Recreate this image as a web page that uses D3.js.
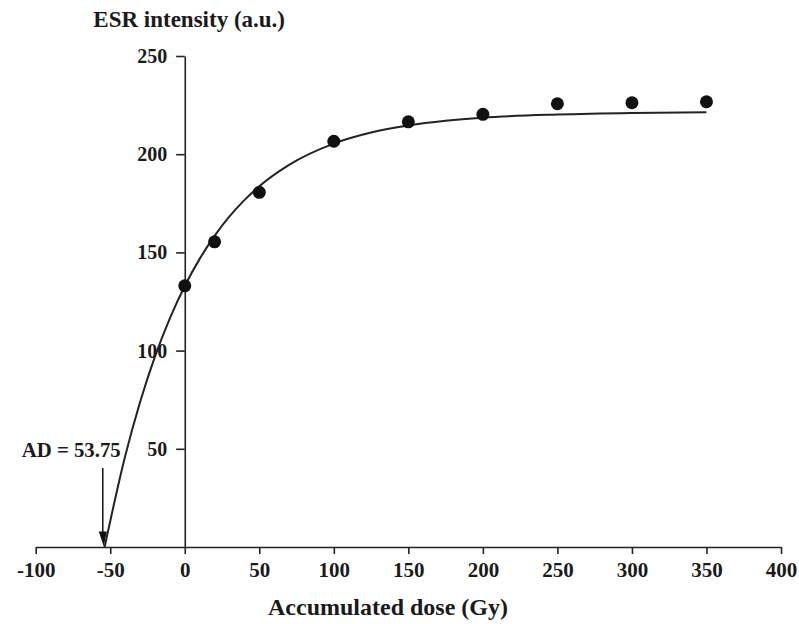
<!DOCTYPE html>
<html>
<head>
<meta charset="utf-8">
<script src="https://cdn.jsdelivr.net/npm/d3@7"></script>
<style>
  html, body { margin: 0; padding: 0; background: #fff; }
  svg { display: block; }
  text { font-family: "Liberation Serif", "Times New Roman", serif; font-weight: bold; fill: #1a1a1a; }
</style>
</head>
<body>
<svg id="chart" width="799" height="624"></svg>
<script>
// Measured points
const doseX = [0, 20, 50, 100, 150, 200, 250, 300, 350];
const esrY  = [133.0, 155.4, 180.6, 206.6, 216.5, 220.3, 225.7, 226.2, 226.7];

// Fitted curve
const curveX = [-53.75, -40, -30, -20, -10, 0, 10, 20, 30, 40, 50, 70, 100, 125, 150, 175, 200, 250, 300, 350];
const curveY = [0, 46.2, 73.7, 96.9, 116.4, 132.9, 146.7, 158.4, 168.3, 176.6, 183.7, 194.6, 205.4, 211.0, 214.6, 217.0, 218.6, 220.2, 221.0, 221.3];

const xTicks = [-100, -50, 0, 50, 100, 150, 200, 250, 300, 350, 400];
const yTicks = [50, 100, 150, 200, 250];

const arrowDose = -55;
const adLabel = "AD = 53.75";
const yTitle = "ESR intensity (a.u.)";
const xTitle = "Accumulated dose (Gy)";

const svg = d3.select("#chart");
const x = d3.scaleLinear().domain([-100, 400]).range([35.7, 781]);
const y = d3.scaleLinear().domain([0, 250]).range([547, 56]);
const axisColor = "#222";
const fmt = d => String(d);

// X axis
const gx = svg.append("g").attr("transform", `translate(0,${y(0)})`)
  .call(d3.axisBottom(x).tickValues(xTicks).tickSize(7).tickSizeOuter(0).tickPadding(8).tickFormat(fmt));
gx.select(".domain").attr("stroke", axisColor).attr("stroke-width", 1.6);
gx.selectAll(".tick line").attr("stroke", axisColor).attr("stroke-width", 1.6);
gx.selectAll(".tick text").style("font-size", "21px").attr("fill", "#1a1a1a")
  .style("font-family", '"Liberation Serif", serif').style("font-weight", "bold");

// Y axis
const gy = svg.append("g").attr("transform", `translate(${x(0)},0)`)
  .call(d3.axisLeft(y).tickValues(yTicks).tickSize(8.6).tickSizeOuter(0).tickPadding(9).tickFormat(fmt));
gy.select(".domain").attr("stroke", axisColor).attr("stroke-width", 1.6);
gy.selectAll(".tick line").attr("stroke", axisColor).attr("stroke-width", 1.6);
gy.selectAll(".tick text").style("font-size", "20px").attr("fill", "#1a1a1a")
  .style("font-family", '"Liberation Serif", serif').style("font-weight", "bold");

// Curve
const curvePts = curveX.map((d, i) => [d, curveY[i]]);
svg.append("path").datum(curvePts)
  .attr("fill", "none").attr("stroke", "#222").attr("stroke-width", 2)
  .attr("d", d3.line().x(d => x(d[0])).y(d => y(d[1])).curve(d3.curveMonotoneX));

// Points
svg.append("g").selectAll("circle").data(doseX.map((d, i) => [d, esrY[i]]))
  .join("circle")
  .attr("cx", d => x(d[0])).attr("cy", d => y(d[1])).attr("r", 6.5)
  .attr("fill", "#111");

// Arrow
const ax = x(arrowDose);
svg.append("line").attr("x1", ax).attr("x2", ax).attr("y1", 468).attr("y2", 533)
  .attr("stroke", "#222").attr("stroke-width", 1.6);
svg.append("path")
  .attr("d", `M${ax - 4},531.5 L${ax + 4},531.5 L${ax + 1},546.5 Z`)
  .attr("fill", "#111");

svg.append("text").attr("x", 21.7).attr("y", 457).style("font-size", "20px")
  .attr("textLength", 99).attr("lengthAdjust", "spacingAndGlyphs").text(adLabel);

// Titles
svg.append("text").attr("x", 93.3).attr("y", 27.3).style("font-size", "23px").text(yTitle);
svg.append("text").attr("x", 388).attr("y", 615).attr("text-anchor", "middle").style("font-size", "24px").text(xTitle);
</script>
</body>
</html>
